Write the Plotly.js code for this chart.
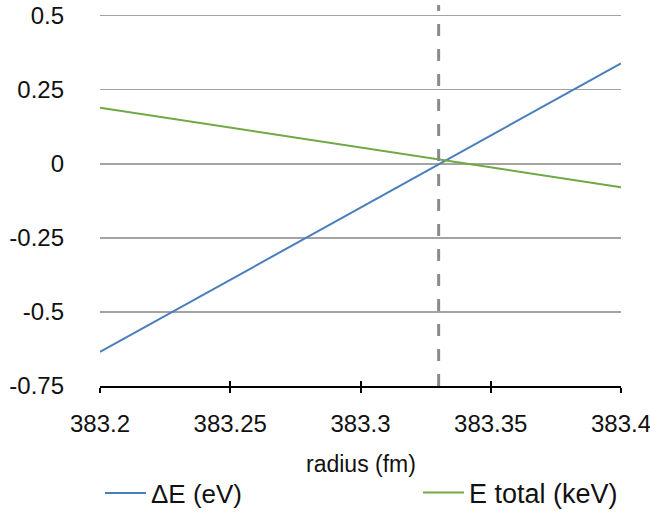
<!DOCTYPE html>
<html>
<head>
<meta charset="utf-8">
<script src="https://cdn.plot.ly/plotly-3.0.1.min.js"></script>
<style>html,body{margin:0;padding:0;background:#fff;}#chart{width:650px;height:512px;}</style>
</head>
<body>
<div id="chart"></div>
<script>
// Data
const radius = [383.2, 383.4];
const deltaE = [-0.635, 0.339];
const eTotal = [0.189, -0.079];
const crossingRadius = 383.33;
const xTickVals = [383.2, 383.25, 383.3, 383.35, 383.4];
const xTickText = ["383.2", "383.25", "383.3", "383.35", "383.4"];
const yTickVals = [-0.75, -0.5, -0.25, 0, 0.25, 0.5];
const yTickText = ["-0.75", "-0.5", "-0.25", "0", "0.25", "0.5"];
const xAxisTitle = "radius (fm)";

const FONT = "Liberation Sans, Arial, Helvetica, sans-serif";

const traces = [
  {x: radius, y: deltaE, mode: "lines", name: "ΔE (eV)",
   line: {color: "#4a7ebb", width: 2}, legend: "legend"},
  {x: radius, y: eTotal, mode: "lines", name: "E total (keV)",
   line: {color: "#6fa844", width: 2}, legend: "legend2"},
  {x: [radius[0]], y: [null], xaxis: "x2", showlegend: false, hoverinfo: "skip"}
];

const layout = {
  width: 650, height: 512,
  margin: {l: 100, r: 29, t: 5, b: 126},
  paper_bgcolor: "#fff", plot_bgcolor: "#fff",
  font: {family: FONT, color: "#111", size: 24},
  xaxis: {
    range: [radius[0], radius[radius.length - 1]],
    tickvals: xTickVals, ticktext: xTickText,
    ticks: "outside", ticklen: 5, tickwidth: 2, tickcolor: "#000",
    showline: true, linecolor: "#000", linewidth: 2,
    showgrid: false, zeroline: false,
    ticklabelstandoff: 10,
    ticklabeloverflow: "allow",
    automargin: false,
    tickfont: {size: 24, family: FONT, color: "#111"}
  },
  xaxis2: {
    overlaying: "x", anchor: "y",
    range: [radius[0], radius[radius.length - 1]],
    tickvals: xTickVals, showticklabels: false,
    ticks: "inside", ticklen: 5, tickwidth: 2, tickcolor: "#000",
    showgrid: false, zeroline: false, showline: false
  },
  yaxis: {
    range: [-0.75, 0.536],
    tickvals: yTickVals, ticktext: yTickText,
    ticks: "", showline: false,
    showgrid: true, gridcolor: "#a3a3a3", gridwidth: 1.5,
    zeroline: false,
    automargin: false,
    ticklabelstandoff: 35,
    tickfont: {size: 24, family: FONT, color: "#111"}
  },
  annotations: [{
    text: xAxisTitle, xref: "paper", yref: "paper", x: 0.5, y: -0.2047,
    xanchor: "center", yanchor: "middle", showarrow: false,
    font: {size: 23, family: FONT, color: "#111"}
  }],
  legend: {
    orientation: "h", xref: "container", yref: "container",
    x: 0.1538, xanchor: "left", y: 0.0371, yanchor: "middle",
    itemwidth: 41,
    font: {size: 26, family: FONT, color: "#111"}, bgcolor: "rgba(0,0,0,0)"
  },
  legend2: {
    orientation: "h", xref: "container", yref: "container",
    x: 0.6431, xanchor: "left", y: 0.0371, yanchor: "middle",
    itemwidth: 41,
    font: {size: 27, family: FONT, color: "#111"}, bgcolor: "rgba(0,0,0,0)"
  },
  shapes: [{
    type: "line", xref: "x", yref: "paper",
    x0: crossingRadius, x1: crossingRadius, y0: 0, y1: 1,
    line: {color: "#8a8a8a", width: 3, dash: "12px,13px"}
  }],
  showlegend: true
};

Plotly.newPlot("chart", traces, layout, {displayModeBar: false, staticPlot: true});
</script>
</body>
</html>
